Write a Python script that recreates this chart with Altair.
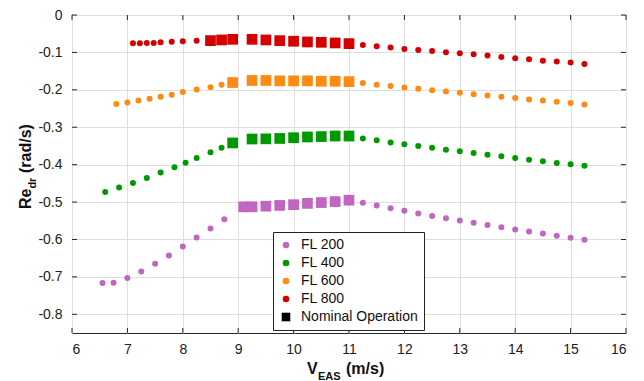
import altair as alt
import pandas as pd

# ---- series data: damping (Re of Dutch-roll root) vs equivalent airspeed ----
SERIES = ["FL 200", "FL 400", "FL 600", "FL 800"]
NOMINAL = "Nominal Operation"
COLORS = ["#C065C0", "#009A00", "#FF8A12", "#D50000", "#000000"]

V_AFTER = [11.25, 11.5, 11.75, 12.0, 12.25, 12.5, 12.75, 13.0, 13.25,
           13.5, 13.75, 14.0, 14.25, 14.5, 14.75, 15.0, 15.25]

fl200_v_pre = [6.55, 6.75, 7.0, 7.25, 7.5, 7.75, 8.0, 8.25, 8.5, 8.75]
fl200_re_pre = [-0.7165, -0.7155, -0.703, -0.6853, -0.6648, -0.6427,
                -0.6187, -0.5947, -0.5707, -0.546]
fl200_v_nom = [9.1, 9.25, 9.5, 9.75, 10.0, 10.25, 10.5, 10.75, 11.0]
fl200_re_nom = [-0.5128, -0.5128, -0.511, -0.509, -0.507, -0.5035,
                -0.5013, -0.4987, -0.495]
fl200_re_post = [-0.502, -0.5093, -0.5165, -0.5235, -0.5307, -0.537,
                 -0.5432, -0.5493, -0.5555, -0.561, -0.5672, -0.5733,
                 -0.5787, -0.584, -0.5902, -0.5955, -0.6008]

fl400_v_pre = [6.6, 6.85, 7.1, 7.35, 7.6, 7.85, 8.05, 8.25, 8.5, 8.7]
fl400_re_pre = [-0.4728, -0.4613, -0.4488, -0.4355, -0.4213, -0.4067,
                -0.3947, -0.382, -0.367, -0.355]
fl400_v_nom = [8.9, 9.25, 9.5, 9.75, 10.0, 10.25, 10.5, 10.75, 11.0]
fl400_re_nom = [-0.342, -0.3315, -0.331, -0.330, -0.328, -0.326,
                -0.325, -0.3235, -0.3235]
fl400_re_post = [-0.330, -0.335, -0.3405, -0.3458, -0.350, -0.3547,
                 -0.360, -0.3645, -0.3688, -0.3733, -0.3778, -0.382,
                 -0.3867, -0.391, -0.3955, -0.399, -0.4027]

fl600_v_pre = [6.8, 7.0, 7.2, 7.4, 7.6, 7.8, 8.0, 8.25, 8.5, 8.7]
fl600_re_pre = [-0.238, -0.234, -0.2285, -0.224, -0.2187, -0.2133,
                -0.206, -0.199, -0.193, -0.1867]
fl600_v_nom = [8.9, 9.25, 9.5, 9.75, 10.0, 10.25, 10.5, 10.75, 11.0]
fl600_re_nom = [-0.1805, -0.175, -0.175, -0.176, -0.176, -0.176,
                -0.177, -0.177, -0.178]
fl600_re_post = [-0.182, -0.1867, -0.190, -0.1938, -0.197, -0.201,
                 -0.2045, -0.208, -0.2115, -0.215, -0.2187, -0.222,
                 -0.2258, -0.2285, -0.232, -0.2355, -0.239]

fl800_v_pre = [7.1, 7.225, 7.35, 7.475, 7.6, 7.8, 8.0, 8.25]
fl800_re_pre = [-0.0755, -0.0755, -0.0747, -0.0747, -0.0728, -0.0712,
                -0.0701, -0.0685]
fl800_v_nom = [8.5, 8.7, 8.9, 9.25, 9.5, 9.75, 10.0, 10.25, 10.5, 10.75, 11.0]
fl800_re_nom = [-0.0685, -0.0667, -0.065, -0.065, -0.0667, -0.0685,
                -0.0701, -0.072, -0.073, -0.0747, -0.0765]
fl800_re_post = [-0.080, -0.0835, -0.087, -0.0907, -0.0933, -0.096,
                 -0.0995, -0.102, -0.105, -0.1085, -0.112, -0.1155,
                 -0.118, -0.122, -0.1245, -0.127, -0.1307]

X_TICKS = [6, 7, 8, 9, 10, 11, 12, 13, 14, 15, 16]
Y_TICKS = [0, -0.1, -0.2, -0.3, -0.4, -0.5, -0.6, -0.7, -0.8]

# ---- assemble tables ----
groups = [
    ("FL 200", fl200_v_pre, fl200_re_pre, fl200_v_nom, fl200_re_nom, fl200_re_post),
    ("FL 400", fl400_v_pre, fl400_re_pre, fl400_v_nom, fl400_re_nom, fl400_re_post),
    ("FL 600", fl600_v_pre, fl600_re_pre, fl600_v_nom, fl600_re_nom, fl600_re_post),
    ("FL 800", fl800_v_pre, fl800_re_pre, fl800_v_nom, fl800_re_nom, fl800_re_post),
]
off_rows, nom_rows = [], []
for name, vp, rp, vn, rn, rpost in groups:
    off_rows += [{"V": v, "Re": r, "series": name} for v, r in zip(vp, rp)]
    off_rows += [{"V": v, "Re": r, "series": name} for v, r in zip(V_AFTER, rpost)]
    nom_rows += [{"V": v, "Re": r, "series": name} for v, r in zip(vn, rn)]
off_df = pd.DataFrame(off_rows)
nom_df = pd.DataFrame(nom_rows)

FONT = "Liberation Sans"
W, H = 554, 318

x_scale = alt.Scale(domain=[6, 16], nice=False, zero=False)
y_scale = alt.Scale(domain=[-0.85, 0], nice=False, zero=False)
x_axis = alt.Axis(values=X_TICKS, title=None, grid=True, gridColor="#DFDFDF",
                  domain=False, ticks=False, labelFont=FONT, labelFontSize=14,
                  labelColor="#222222", labelPadding=9, format="d")
y_axis = alt.Axis(values=Y_TICKS, title=None, grid=True, gridColor="#DFDFDF",
                  domain=False, ticks=False, labelFont=FONT, labelFontSize=14,
                  labelColor="#222222", labelPadding=10,
                  labelExpr="datum.value == 0 ? '0' : '-' + format(abs(datum.value), '.1f')")

color_scale = alt.Scale(domain=SERIES + [NOMINAL], range=COLORS)
shape_scale = alt.Scale(domain=SERIES + [NOMINAL],
                        range=["circle", "circle", "circle", "circle",
                               "M-1.3,-1.3H1.3V1.3H-1.3Z"])
legend = alt.Legend(title=None, orient="none", legendX=201, legendY=217,
                    fillColor="white", strokeColor="#222222", padding=6,
                    labelFont=FONT, labelFontSize=14, labelColor="#111111",
                    symbolSize=44, symbolStrokeWidth=0, rowPadding=4,
                    labelOffset=8, symbolOpacity=1)

circles = alt.Chart(off_df).mark_point(filled=True, size=36, opacity=1).encode(
    x=alt.X("V:Q", scale=x_scale, axis=x_axis),
    y=alt.Y("Re:Q", scale=y_scale, axis=y_axis),
    color=alt.Color("series:N", scale=color_scale, legend=legend),
    shape=alt.Shape("series:N", scale=shape_scale, legend=legend),
)

squares = alt.Chart(nom_df).mark_square(size=115, opacity=1).encode(
    x=alt.X("V:Q", scale=x_scale, axis=x_axis),
    y=alt.Y("Re:Q", scale=y_scale, axis=y_axis),
    color=alt.Color("series:N", scale=color_scale, legend=None),
)

# inward tick marks on all four sides of the box
TICK_COLOR = "#262626"
xt = pd.DataFrame({"v": X_TICKS})
yt = pd.DataFrame({"v": Y_TICKS})
x_ticks_bottom = alt.Chart(xt).mark_rule(color=TICK_COLOR).encode(
    x=alt.X("v:Q", scale=x_scale, axis=x_axis), y=alt.value(H), y2=alt.value(H - 5))
x_ticks_top = alt.Chart(xt).mark_rule(color=TICK_COLOR).encode(
    x=alt.X("v:Q", scale=x_scale, axis=x_axis), y=alt.value(0), y2=alt.value(5))
y_ticks_left = alt.Chart(yt).mark_rule(color=TICK_COLOR).encode(
    y=alt.Y("v:Q", scale=y_scale, axis=y_axis), x=alt.value(0), x2=alt.value(5))
y_ticks_right = alt.Chart(yt).mark_rule(color=TICK_COLOR).encode(
    y=alt.Y("v:Q", scale=y_scale, axis=y_axis), x=alt.value(W), x2=alt.value(W - 5))

# axis titles with subscripts
def label(txt, x, y, size, angle=0):
    return alt.Chart(pd.DataFrame({"t": [txt]})).mark_text(
        font=FONT, fontSize=size, fontWeight="bold", align="left",
        baseline="alphabetic", angle=angle, color="#111111",
    ).encode(text="t:N", x=alt.value(x), y=alt.value(y))

x_title = [label("V", 235, 359, 16), label("EAS", 246, 365, 11),
           label("(m/s)", 274, 359, 16)]
y_title = [label("Re", -41, 194, 16, 270), label("dr", -36, 173.6, 11, 270),
           label("(rad/s)", -41, 158, 16, 270)]

chart = alt.layer(
    x_ticks_bottom, x_ticks_top, y_ticks_left, y_ticks_right,
    circles, squares, *x_title, *y_title,
).properties(
    width=W, height=H,
    autosize=alt.AutoSizeParams(type="none"),
    padding={"left": 72, "top": 15, "right": 18, "bottom": 48},
).configure_view(stroke="#262626", strokeWidth=1)

chart.save("out.html", embed_options={"renderer": "svg", "actions": False})
